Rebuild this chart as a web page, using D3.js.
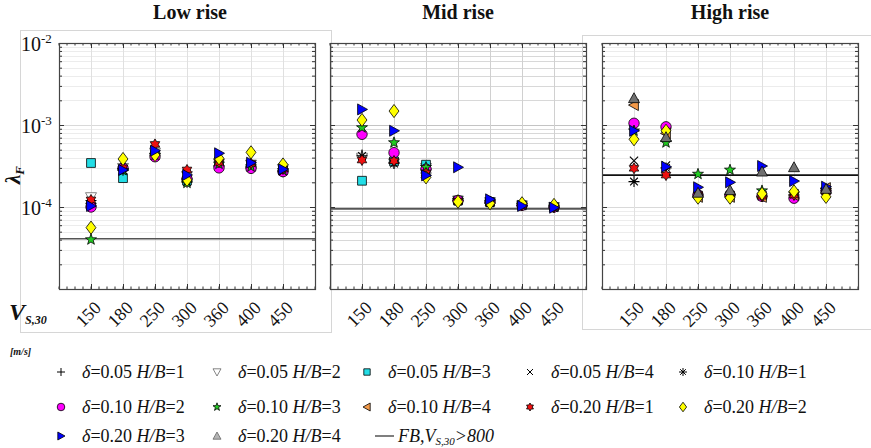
<!DOCTYPE html>
<html><head><meta charset="utf-8">
<script src="https://cdn.jsdelivr.net/npm/d3@7"></script>
<style>body{margin:0;background:#fff}svg{display:block}</style>
</head><body><svg id="c" width="871" height="448" font-family="Liberation Serif, Times New Roman, DejaVu Serif, serif"></svg>
<script>
// ---------- data ----------
const categories = ["150","180","250","300","360","400","450"];
const panelTitles = ["Low rise","Mid rise","High rise"];
const deltas = ["0.05","0.05","0.05","0.05","0.10","0.10","0.10","0.10","0.20","0.20","0.20","0.20"];
const hbRatios = [1,2,3,4,1,2,3,4,1,2,3,4];
const yTickValues = [1e-2,1e-3,1e-4];
const yTickExponents = ["-2","-3","-4"];
const fbValues = [4.1e-5, 9.5e-5, 2.45e-4];
const N = null;
// rows = series (δ,H/B) in legend order, columns = categories
const lowRiseValues = [
  [1.2e-4, 2.9e-4, 4.5e-4, 2.2e-4, 3.2e-4, 3.1e-4, 2.8e-4],
  [1.32e-4,3.0e-4, 4.6e-4, 2.4e-4, 3.4e-4, 3.3e-4, 2.9e-4],
  [3.44e-4,2.25e-4,4.3e-4, 2.1e-4, 3.2e-4, 3.1e-4, 2.8e-4],
  [N,N,N,N,N,N,N],
  [1.1e-4, 2.8e-4, 4.3e-4, 2.0e-4, 3.1e-4, 3.0e-4, 2.7e-4],
  [1.0e-4, 2.98e-4,4.1e-4, 2.2e-4, 3.0e-4, 2.96e-4,2.7e-4],
  [4.0e-5, 2.8e-4, 4.3e-4, 1.96e-4,3.35e-4,3.1e-4, 2.8e-4],
  [N,N,N,N,N,N,N],
  [1.22e-4,3.0e-4, 5.8e-4, 2.83e-4,3.5e-4, 3.4e-4, 2.9e-4],
  [5.6e-5, 3.85e-4,4.3e-4, 2.14e-4,3.92e-4,4.64e-4,3.3e-4],
  [1.03e-4,2.83e-4,4.86e-4,2.46e-4,4.52e-4,3.47e-4,2.88e-4],
  [N,N,N,N,N,N,N]
];
const midRiseValues = [
  [4.3e-4, 3.5e-4, 2.9e-4, 1.2e-4, 1.15e-4,1.05e-4,1.0e-4],
  [4.0e-4, 3.4e-4, 3.0e-4, 1.2e-4, 1.15e-4,1.05e-4,1.0e-4],
  [2.09e-4,3.6e-4, 3.28e-4,1.2e-4, 1.15e-4,1.05e-4,1.0e-4],
  [N,N,N,N,N,N,N],
  [4.2e-4, 3.4e-4, 2.6e-4, 1.19e-4,1.12e-4,1.04e-4,1.0e-4],
  [7.7e-4, 4.6e-4, 2.9e-4, 1.2e-4, 1.15e-4,1.05e-4,1.0e-4],
  [9.3e-4, 6.1e-4, 3.05e-4,1.2e-4, 1.15e-4,1.06e-4,1.0e-4],
  [N,N,N,N,N,N,N],
  [3.74e-4,3.64e-4,2.6e-4, 1.18e-4,1.12e-4,1.05e-4,1.0e-4],
  [1.15e-3,1.48e-3,2.3e-4, 1.16e-4,1.11e-4,1.11e-4,1.06e-4],
  [1.55e-3,8.5e-4, 2.43e-4,3.05e-4,1.24e-4,1.03e-4,9.8e-5],
  [N,N,N,N,N,N,N]
];
const highRiseValues = [
  [N,N,N,N,N,N,N],
  [N,N,N,N,N,N,N],
  [N,N,N,N,N,N,N],
  [3.67e-4,3.2e-4, 1.4e-4, 1.4e-4, 1.35e-4,1.4e-4, 1.6e-4],
  [2.04e-4,3.0e-4, 1.4e-4, 1.4e-4, 1.35e-4,1.4e-4, 1.6e-4],
  [1.05e-3,9.5e-4, 1.4e-4, 1.4e-4, 1.35e-4,1.28e-4,1.55e-4],
  [8.5e-4, 6.1e-4, 2.52e-4,2.83e-4,1.58e-4,1.45e-4,1.6e-4],
  [1.75e-3,7.9e-4, 1.33e-4,1.33e-4,1.33e-4,1.4e-4, 1.7e-4],
  [2.96e-4,2.45e-4,1.4e-4, 1.4e-4, 1.35e-4,1.4e-4, 1.55e-4],
  [6.7e-4, 8.5e-4, 1.3e-4, 1.3e-4, 1.45e-4,1.55e-4,1.33e-4],
  [8.5e-4, 3.1e-4, 1.74e-4,2.0e-4, 3.16e-4,2.07e-4,1.77e-4],
  [2.12e-3,7.1e-4, 1.49e-4,1.6e-4, 2.7e-4, 3.05e-4,1.66e-4]
];
const panelValues = [lowRiseValues, midRiseValues, highRiseValues];

// ---------- styles ----------
const markerShapes = ["plus","tridown","square","cross","asterisk","circle","pentagram","trileft","hexagram","diamond","triright","triup"];
const markerFills  = ["none","#ffffff","#22dde6","none","none","#ff00ff","#22cc22","#f39a4a","#ee1111","#ffff00","#0000ff","#707070"];
const markerStrokes= ["#000","#666","#000","#000","#000","#000","#000","#000","#000","#000","#000","#000"];

function starPath(n, R, ri) {
  const pts = [];
  for (let k = 0; k < 2*n; k++) {
    const a = -Math.PI/2 + k*Math.PI/n;
    const r = k%2===0 ? R : ri;
    pts.push([r*Math.cos(a), r*Math.sin(a)]);
  }
  return "M" + pts.map(p=>p[0].toFixed(2)+","+p[1].toFixed(2)).join("L") + "Z";
}
function markerPath(shape, s) {
  const r = s;
  switch (shape) {
    case "plus": return `M${-r},0L${r},0M0,${-r}L0,${r}`;
    case "cross": { const c=r*0.75; return `M${-c},${-c}L${c},${c}M${-c},${c}L${c},${-c}`; }
    case "asterisk": { const c=r*0.7; return `M${-r},0L${r},0M0,${-r}L0,${r}M${-c},${-c}L${c},${c}M${-c},${c}L${c},${-c}`; }
    case "square": { const q=r*0.8; return `M${-q},${-q}H${q}V${q}H${-q}Z`; }
    case "circle": return d3.symbol(d3.symbolCircle, Math.PI*r*r*0.9)();
    case "diamond": return `M0,${-r*1.2}L${r*0.9},0L0,${r*1.2}L${-r*0.9},0Z`;
    case "triup": return `M0,${-r}L${r},${r*0.8}L${-r},${r*0.8}Z`;
    case "tridown": return `M0,${r}L${r},${-r*0.8}L${-r},${-r*0.8}Z`;
    case "triright": return `M${r},0L${-r*0.8},${-r}L${-r*0.8},${r}Z`;
    case "trileft": return `M${-r},0L${r*0.8},${-r}L${r*0.8},${r}Z`;
    case "pentagram": return starPath(5, r*1.05, r*0.42);
    case "hexagram": return starPath(6, r*1.0, r*0.58);
  }
}

const svg = d3.select("#c");

// outer figure boxes
svg.append("rect").attr("x",20.5).attr("y",30.5).attr("width",311).attr("height",302)
  .attr("fill","none").attr("stroke","#d6d6d6");
svg.append("rect").attr("x",582.5).attr("y",35.5).attr("width",300).attr("height",294)
  .attr("fill","none").attr("stroke","#d6d6d6");

const panelLefts = [59, 330, 602];
const plotW = 256, plotTop = 43, plotH = 246;
const x = d3.scalePoint().domain(categories).range([32, plotW-32]);
const y = d3.scaleLog().domain([1e-5, 1e-2]).range([plotH, 0]);
const minorVals = [];
[-5,-4,-3].forEach(e => { for (let k=2;k<=9;k++) minorVals.push(k*Math.pow(10,e)); });
const majorVals = [1e-5,1e-4,1e-3,1e-2];
const xMinor = d3.range(0, 8.01, 0.25).map(u => u*32);

panelValues.forEach((vals, p) => {
  const g = svg.append("g").attr("transform", `translate(${panelLefts[p]},${plotTop})`);
  const gridMinor = p===1 ? "#d8d8d8" : "#ececec";
  const gridMajor = p===1 ? "#c4c4c4" : "#d9d9d9";
  // grid
  g.selectAll(".gm").data(minorVals).join("line")
    .attr("x1",0).attr("x2",plotW).attr("y1",d=>Math.round(y(d))+0.5).attr("y2",d=>Math.round(y(d))+0.5)
    .attr("stroke",gridMinor).attr("stroke-width",1);
  g.selectAll(".gM").data(majorVals).join("line")
    .attr("x1",0).attr("x2",plotW).attr("y1",d=>Math.round(y(d))+0.5).attr("y2",d=>Math.round(y(d))+0.5)
    .attr("stroke",gridMajor).attr("stroke-width",1);
  g.selectAll(".gx").data(categories).join("line")
    .attr("x1",d=>x(d)+0.5).attr("x2",d=>x(d)+0.5).attr("y1",0).attr("y2",plotH)
    .attr("stroke",p===1 ? "#d0d0d0" : "#e0e0e0").attr("stroke-width",1);

  // axes ticks (inward)
  const axL = d3.axisLeft(y).tickValues(majorVals).tickSize(-5).tickFormat("");
  const axLm = d3.axisLeft(y).tickValues(minorVals).tickSize(-3).tickFormat("");
  const axR = d3.axisRight(y).tickValues(majorVals).tickSize(-5).tickFormat("");
  const axRm = d3.axisRight(y).tickValues(minorVals).tickSize(-3).tickFormat("");
  const axB = d3.axisBottom(x).tickSize(-5).tickFormat("");
  const axT = d3.axisTop(x).tickSize(-5).tickFormat("");
  [[axL,"translate(0,0)"],[axLm,"translate(0,0)"],[axR,`translate(${plotW},0)`],[axRm,`translate(${plotW},0)`],
   [axB,`translate(0,${plotH})`],[axT,"translate(0,0)"]].forEach(([a,t]) => {
    const ag = g.append("g").attr("transform",t).call(a);
    ag.select(".domain").remove();
    ag.selectAll("line").attr("stroke","#333");
  });
  g.selectAll(".mxb").data(xMinor).join("line")
    .attr("x1",d=>d).attr("x2",d=>d).attr("y1",plotH).attr("y2",plotH-2.5).attr("stroke","#333");
  g.selectAll(".mxt").data(xMinor).join("line")
    .attr("x1",d=>d).attr("x2",d=>d).attr("y1",0).attr("y2",2.5).attr("stroke","#333");

  // FB reference line
  g.append("line").attr("x1",0).attr("x2",plotW).attr("y1",y(fbValues[p])).attr("y2",y(fbValues[p]))
    .attr("stroke", p===2 ? "#111" : "#555").attr("stroke-width", 1.6);

  // markers
  vals.forEach((row, i) => {
    row.forEach((v, j) => {
      if (v == null) return;
      g.append("path").attr("d", markerPath(markerShapes[i], 5.5))
        .attr("transform", `translate(${x(categories[j])},${y(v)})`)
        .attr("fill", markerFills[i]).attr("stroke", markerStrokes[i])
        .attr("stroke-width", markerFills[i]==="none" ? 1.1 : 0.8).attr("stroke-linejoin","miter");
    });
  });

  // box
  g.append("rect").attr("x",0.5).attr("y",0.5).attr("width",plotW).attr("height",plotH)
    .attr("fill","none").attr("stroke","#444").attr("stroke-width",1.2);

  // x tick labels
  categories.forEach(c => {
    svg.append("text").attr("transform",`translate(${panelLefts[p]+x(c)+11},${plotTop+plotH+20}) rotate(-45)`)
      .attr("text-anchor","end").attr("font-size",18).attr("fill","#111").text(c);
  });

  // title
  svg.append("text").attr("x", panelLefts[p]+plotW/2 + (p===0? 3 : 0)).attr("y",19).attr("text-anchor","middle")
    .attr("font-size",20).attr("font-weight","bold").attr("fill","#111").text(panelTitles[p]);
});

// y tick labels (panel 1)
yTickValues.forEach((v,i) => {
  const t = svg.append("text").attr("x",21).attr("y",plotTop+y(v)+8).attr("font-size",20).attr("fill","#111");
  t.append("tspan").text("10");
  t.append("tspan").attr("dy",-8).attr("font-size",13).text(yTickExponents[i]);
});

// y axis label λ_F
const yl = svg.append("text").attr("transform","translate(20,184) rotate(-90)").attr("font-size",21)
  .attr("font-weight","bold").attr("font-style","italic").attr("fill","#111");
yl.append("tspan").text("λ");
yl.append("tspan").attr("dy",4).attr("font-size",13).text("F");

// x axis label V_S,30 [m/s]
const xl = svg.append("text").attr("x",9).attr("y",320).attr("font-size",24)
  .attr("font-weight","bold").attr("font-style","italic").attr("fill","#111");
xl.append("tspan").text("V");
xl.append("tspan").attr("dy",4).attr("font-size",12).text("S,30");
svg.append("text").attr("x",10).attr("y",355).attr("font-size",10).attr("font-weight","bold")
  .attr("font-style","italic").attr("fill","#111").text("[m/s]");

// legend
const legCols = [61, 217, 367, 530, 683];
const legRows = [378, 413, 442];
for (let i = 0; i < 12; i++) {
  const r = Math.floor(i/5), c = i%5;
  const mx = legCols[c], my = legRows[r]-6;
  svg.append("path").attr("d", markerPath(markerShapes[i], 4))
    .attr("transform",`translate(${mx},${my})`)
    .attr("fill", markerFills[i]==="#707070" ? "#b4b4b4" : markerFills[i])
    .attr("stroke", markerFills[i]==="#707070" ? "#666" : markerStrokes[i])
    .attr("stroke-width", markerFills[i]==="none" ? 1 : 0.8);
  const t = svg.append("text").attr("x", mx+21).attr("y", legRows[r]).attr("font-size",18).attr("fill","#111");
  t.append("tspan").attr("font-style","italic").text("δ");
  t.append("tspan").text("=" + deltas[i] + " ");
  t.append("tspan").attr("font-style","italic").text("H/B");
  t.append("tspan").text("=" + hbRatios[i]);
}
svg.append("line").attr("x1",375).attr("x2",394).attr("y1",legRows[2]-6).attr("y2",legRows[2]-6)
  .attr("stroke","#555").attr("stroke-width",1.5);
const ft = svg.append("text").attr("x",398).attr("y",legRows[2]).attr("font-size",18).attr("font-style","italic").attr("fill","#111");
ft.append("tspan").text("FB,V");
ft.append("tspan").attr("dy",3).attr("font-size",11).text("S,30");
ft.append("tspan").attr("dy",-3).text(">800");
</script></body></html>
